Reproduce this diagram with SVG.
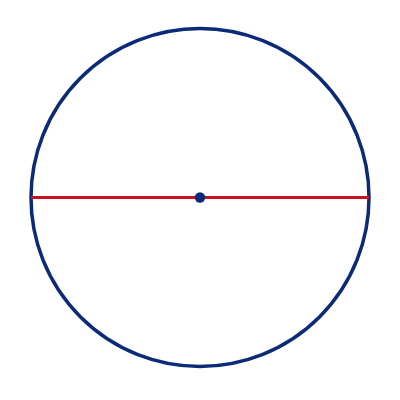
<svg xmlns="http://www.w3.org/2000/svg" width="400" height="400" viewBox="0 0 400 400">
<style>
.outline{fill:none;stroke:#0b2a78;stroke-width:3.5}
.diam{stroke:#cc1122;stroke-width:3}
.dot{fill:#0b2a78}
</style>
<rect width="400" height="400" fill="#ffffff"/>
<g id="circle"><circle class="outline" cx="200" cy="197.5" r="169"/></g>
<g id="connectors"><line class="diam" x1="31" y1="197.5" x2="369" y2="197.5"/></g>
<g id="center"><circle class="dot" cx="200" cy="197.5" r="5.2"/></g>
</svg>
